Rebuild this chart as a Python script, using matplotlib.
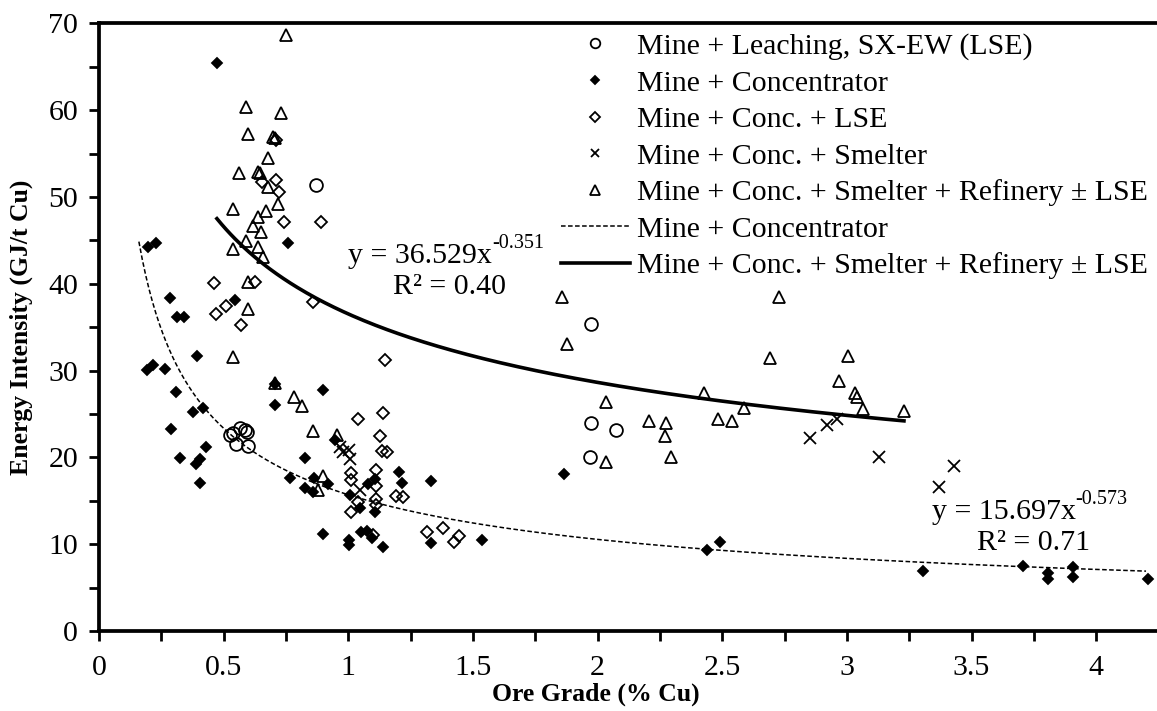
"""Energy intensity of copper production vs ore grade, with power-law trendlines."""

import matplotlib
matplotlib.use("Agg")
import matplotlib.pyplot as plt
from matplotlib.ticker import MultipleLocator, FormatStrFormatter
import numpy as np

plt.rcParams.update(
    {
        "font.family": ["Liberation Serif", "DejaVu Serif"],
        "font.size": 21.5,
        "axes.linewidth": 2.7,
    }
)

# ore grade (% Cu), energy intensity (GJ/t Cu) per route
lse_x = [0.87, 1.974, 1.974, 2.074, 1.97, 0.538, 0.566, 0.586, 0.594, 0.55, 0.598, 0.525]
lse_y = [51.4, 35.4, 24.0, 23.2, 20.0, 22.8, 23.4, 23.2, 22.9, 21.5, 21.3, 22.6]

conc_x = [0.473, 0.758, 0.197, 0.229, 0.546, 0.285, 0.313, 0.341, 0.393, 0.193,
          0.217, 0.265, 0.309, 0.377, 0.417, 0.289, 0.429, 0.325, 0.389, 0.405,
          0.405, 0.706, 0.706, 0.899, 0.947, 0.826, 0.766, 0.862, 0.919, 0.826,
          0.858, 0.899, 1.003, 1.003, 1.007, 1.047, 1.079, 1.107, 1.107, 1.051,
          1.075, 1.095, 1.139, 1.203, 1.215, 1.332, 1.332, 1.536, 1.865, 2.44,
          2.49, 3.305, 3.706, 3.807, 3.807, 3.907, 3.907, 4.208]
conc_y = [65.4, 44.7, 44.2, 44.7, 38.1, 38.4, 36.2, 36.2, 31.7, 30.1,
          30.6, 30.2, 27.5, 25.2, 25.7, 23.3, 21.2, 19.9, 19.2, 19.8,
          17.1, 28.5, 26.0, 27.8, 22.0, 19.9, 17.6, 17.6, 16.9, 16.5,
          16.0, 11.2, 10.5, 9.9, 15.7, 14.2, 16.9, 17.5, 13.7, 11.4,
          11.5, 10.7, 9.7, 18.3, 17.1, 17.3, 10.1, 10.5, 18.1, 9.3,
          10.3, 6.9, 7.5, 6.7, 6.0, 7.4, 6.2, 6.0]

conc_lse_x = [0.71, 0.654, 0.71, 0.722, 0.742, 0.89, 0.461, 0.626, 0.509, 0.469,
              0.57, 0.858, 1.147, 1.039, 1.139, 1.127, 1.135, 1.155, 1.011, 1.011,
              1.111, 1.111, 1.111, 1.111, 1.011, 1.039, 1.191, 1.219, 1.316, 1.38,
              1.424, 1.444, 1.099]
conc_lse_y = [56.6, 51.7, 52.0, 50.6, 47.1, 47.1, 40.1, 40.2, 37.4, 36.5,
              35.3, 37.9, 31.2, 24.4, 25.1, 22.5, 20.7, 20.6, 18.2, 17.4,
              18.5, 16.7, 15.2, 14.5, 13.7, 14.9, 15.6, 15.4, 11.4, 11.9,
              10.3, 10.9, 11.1]

smelt_x = [0.967, 0.979, 1.003, 1.007, 1.047, 2.852, 2.92, 2.96, 3.129, 3.369, 3.43]
smelt_y = [21.2, 20.6, 20.9, 19.8, 16.2, 22.2, 23.7, 24.4, 20.0, 16.6, 19.0]

refin_x = [0.75, 0.59, 0.73, 0.598, 0.698, 0.706, 0.678, 0.562, 0.638, 0.646,
           0.678, 0.718, 0.537, 0.67, 0.638, 0.618, 0.65, 0.59, 0.537, 0.638,
           0.658, 0.598, 0.598, 0.537, 0.706, 0.782, 0.814, 0.858, 0.955, 0.899,
           0.878, 1.857, 1.877, 2.034, 2.034, 2.206, 2.274, 2.27, 2.294, 2.427,
           2.483, 2.539, 2.587, 2.728, 2.692, 3.004, 2.968, 3.032, 3.041, 3.065,
           3.229]
refin_y = [68.7, 60.4, 59.7, 57.3, 56.9, 56.8, 54.5, 52.8, 52.9, 52.8,
           51.2, 49.2, 48.6, 48.4, 47.7, 46.7, 46.0, 44.9, 44.0, 44.2,
           43.1, 40.2, 37.1, 31.6, 28.6, 27.0, 25.9, 23.0, 22.6, 17.9,
           16.2, 38.5, 33.1, 26.4, 19.5, 24.2, 24.0, 22.5, 20.0, 27.4,
           24.4, 24.2, 25.7, 38.5, 31.5, 31.7, 28.8, 27.4, 27.0, 25.6,
           25.3]

# power-law trendlines as printed on the chart: y = a * x^b, drawn over [x0, x1]
conc_fit = (15.697, -0.573, 0.16, 4.2)
refin_fit = (36.529, -0.351, 0.473, 3.229)

fig = plt.figure(figsize=(11.57, 7.11), dpi=100)
ax = fig.add_axes([99 / 1157, 80 / 711, 1058 / 1157, 607.6 / 711])

mk = dict(linestyle="none", markeredgecolor="black", markeredgewidth=1.3)
ax.plot(lse_x, lse_y, marker="o", markersize=9.2, markerfacecolor="none", label="Mine + Leaching, SX-EW (LSE)", **mk)
ax.plot(conc_x, conc_y, marker="D", markersize=5.6, markerfacecolor="black", label="Mine + Concentrator", **mk)
ax.plot(conc_lse_x, conc_lse_y, marker="D", markersize=6.4, markerfacecolor="none", label="Mine + Conc. + LSE", **mk)
ax.plot(smelt_x, smelt_y, marker="x", markersize=8.5, label="Mine + Conc. + Smelter", **mk)
ax.plot(refin_x, refin_y, marker="^", markersize=8.8, markerfacecolor="none",
        label="Mine + Conc. + Smelter + Refinery ± LSE", **mk)

a, b, x0, x1 = conc_fit
xs = np.linspace(x0, x1, 300)
ax.plot(xs, a * xs ** b, color="black", lw=1.1, linestyle=(0, (3, 1.6)), label="Mine + Concentrator")
a, b, x0, x1 = refin_fit
xs = np.linspace(x0, x1, 300)
ax.plot(xs, a * xs ** b, color="black", lw=2.6, label="Mine + Conc. + Smelter + Refinery ± LSE")

ax.set_xlim(0, 4.244)
ax.set_ylim(0, 70)
ax.spines["right"].set_visible(False)
ax.xaxis.set_major_locator(MultipleLocator(0.5))
ax.xaxis.set_minor_locator(MultipleLocator(0.25))
ax.yaxis.set_major_locator(MultipleLocator(10))
ax.yaxis.set_minor_locator(MultipleLocator(5))
ax.xaxis.set_major_formatter(FormatStrFormatter("%g"))
ax.tick_params(which="both", direction="out", length=7, width=2, top=False, right=False)
ax.tick_params(axis="x", pad=10)
ax.tick_params(axis="y", pad=8)

ax.set_xlabel("Ore Grade (% Cu)", fontsize=18.5, fontweight="bold")
ax.set_ylabel("Energy Intensity (GJ/t Cu)", fontsize=18.5, fontweight="bold")
ax.xaxis.set_label_coords(0.47, -0.085)
ax.yaxis.set_label_coords(-0.062, 0.5)

leg = ax.legend(loc="upper left", bbox_to_anchor=(561 / 1157, (711 - 33) / 711),
                bbox_transform=fig.transFigure, frameon=False, borderpad=0,
                borderaxespad=0, handlelength=2.3, handletextpad=0.25,
                labelspacing=0.32, markerscale=0.75, fontsize=21.5)


def equation(x, y, base, exp, r2, dx):
    t = ax.text(x, y, base, ha="left", va="center", fontsize=21.5)
    ax.annotate(exp, xy=(1.0, 0.62), xycoords=t, ha="left", va="bottom", fontsize=14.5)
    ax.text(x + dx, y - 3.6, r2, ha="left", va="center", fontsize=21.5)


equation(1.0, 43.2, "y = 36.529x", "-0.351", "R² = 0.40", 0.18)
equation(3.34, 13.7, "y = 15.697x", "-0.573", "R² = 0.71", 0.18)

fig.savefig("out.png", dpi=100)
